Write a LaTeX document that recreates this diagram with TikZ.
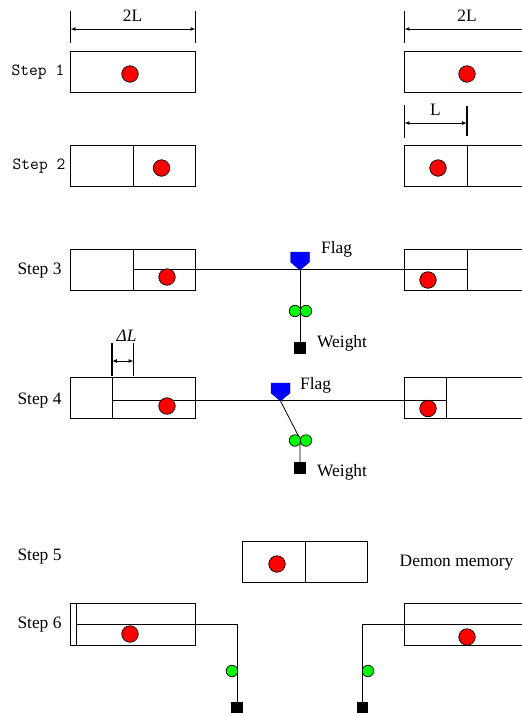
\documentclass[tikz,border=0pt]{standalone}
\usepackage{fontspec}
\setmainfont{Liberation Serif}
\usetikzlibrary{arrows}
\newcommand{\lbl}{\fontsize{17.4}{20}\selectfont}
\newcommand{\mono}{\fontsize{17}{20}\selectfont\ttfamily}
\tikzset{
  box/.style={draw, line width=0.8pt, minimum width=125pt, minimum height=41pt, inner sep=0pt},
  ball/.style={circle, draw, fill=red, line width=0.7pt, minimum size=16.5pt, inner sep=0pt},
  bead/.style={circle, draw, fill=green, line width=0.7pt, minimum size=11.5pt, inner sep=0pt},
  weight/.style={fill=black, minimum size=11.5pt, inner sep=0pt},
  wire/.style={line width=0.8pt},
  tick/.style={line width=1.1pt},
  dim/.style={line width=0.7pt, >=latex},
  txt/.style={inner sep=0pt, yshift=-1.5pt, font=\lbl},
  monotxt/.style={inner sep=0pt, yshift=-1.5pt, font=\mono},
  flagmark/.pic={\draw [fill=blue, draw=blue!70!black, line width=0.4pt] (-9.5,-18) -- (9.5,-18) -- (9.5,-8) -- (0,0) -- (-9.5,-8) -- cycle;}
}
\begin{document}
\begin{tikzpicture}[x=1pt,y=-1pt]
    \useasboundingbox (0,0) rectangle (522,716);
    \clip (0,0) rectangle (522,716);
    \node [box] (s1l) at (133,71.5) {};
    \node [box] (s1r) at (467,71.5) {};
    \node [box] (s2l) at (133,165.5) {};
    \node [box] (s2r) at (467,165.5) {};
    \node [box] (s3l) at (133,269.5) {};
    \node [box] (s3r) at (467,269.5) {};
    \node [box] (s4l) at (133,398) {};
    \node [box] (s4r) at (467,398) {};
    \node [box] (s5) at (305,561.5) {};
    \node [box, minimum height=42pt] (s6l) at (133,624) {};
    \node [box, minimum height=42pt] (s6r) at (467,624) {};
    \node [monotxt] (step1) at (38,71) {Step 1};
    \node [monotxt] (step2) at (39,165) {Step 2};
    \node [txt] (step3) at (39.5,269) {Step 3};
    \node [txt] (step4) at (39.5,399) {Step 4};
    \node [txt] (step5) at (39.5,555) {Step 5};
    \node [txt] (step6) at (39.5,623) {Step 6};
    \draw [wire] (s2l.north) to (s2l.south);
    \draw [wire] (s2r.north) to (s2r.south);
    \draw [wire] (s3l.north) to (s3l.south);
    \draw [wire] (s3r.north) to (s3r.south);
    \draw [wire] (s5.north) to (s5.south);
    \coordinate (d4l) at (112,378);
    \coordinate (e4l) at (112,418.5);
    \coordinate (d4r) at (446,378);
    \coordinate (e4r) at (446,418.5);
    \coordinate (d6l) at (76,603);
    \coordinate (e6l) at (76,645);
    \draw [wire] (d4l) to (e4l);
    \draw [wire] (d4r) to (e4r);
    \draw [wire] (d6l) to (e6l);
    \coordinate (a1) at (70.5,11);
    \coordinate (b1) at (70.5,43);
    \coordinate (a2) at (195.5,11);
    \coordinate (b2) at (195.5,43);
    \coordinate (a3) at (404.5,11);
    \coordinate (b3) at (404.5,43);
    \coordinate (m1) at (70.5,29);
    \coordinate (m2) at (195.5,29);
    \coordinate (m3) at (404.5,29);
    \coordinate (m4) at (530,29);
    \draw [tick] (a1) to (b1);
    \draw [tick] (a2) to (b2);
    \draw [dim] (a3) to (b3);
    \draw [dim,<->] (m1) to (m2);
    \draw [dim,<-] (m3) to (m4);
    \node [txt] (t1) at (132.5,14) {2L};
    \node [txt] (t2) at (467,14) {2L};
    \coordinate (a4) at (404.5,105);
    \coordinate (b4) at (404.5,138);
    \coordinate (a5) at (467,106);
    \coordinate (b5) at (467,136);
    \coordinate (m5) at (404.5,123);
    \coordinate (m6) at (467,123);
    \draw [dim] (a4) to (b4);
    \draw [tick] (a5) to (b5);
    \draw [dim,<->] (m5) to (m6);
    \node [txt] (t3) at (435.5,108) {L};
    \coordinate (a6) at (112,343);
    \coordinate (b6) at (112,376);
    \coordinate (a7) at (133.5,343);
    \coordinate (b7) at (133.5,376);
    \coordinate (m7) at (112,361);
    \coordinate (m8) at (133.5,361);
    \draw [tick] (a6) to (b6);
    \draw [tick] (a7) to (b7);
    \draw [dim,<->] (m7) to (m8);
    \node [txt] (t4) at (126.5,334) {\textit{ΔL}};
    \coordinate (c3a) at (133,269.5);
    \coordinate (c3b) at (467,269.5);
    \coordinate (f3) at (300,270);
    \node [weight] (w3) at (300,348) {};
    \draw [wire] (c3a) to (c3b);
    \draw [wire] (f3) to (w3);
    \pic at (f3) {flagmark};
    \node [bead] (g3a) at (295,311) {};
    \node [bead] (g3b) at (306,311) {};
    \node [txt, anchor=west] (flag3) at (321,248) {Flag};
    \node [txt, anchor=west] (wlabel3) at (317,342) {Weight};
    \coordinate (c4a) at (112,400);
    \coordinate (c4b) at (446,400);
    \coordinate (f4) at (280.5,401);
    \coordinate (k4) at (300,439);
    \node [weight] (w4) at (300,468) {};
    \draw [wire] (c4a) to (c4b);
    \draw [wire] (f4) to (k4) to (w4);
    \pic at (f4) {flagmark};
    \node [bead] (g4a) at (295,440.5) {};
    \node [bead] (g4b) at (306,440.5) {};
    \node [txt, anchor=west] (flag4) at (300,384) {Flag};
    \node [txt, anchor=west] (wlabel4) at (317,471) {Weight};
    \node [txt] (demon) at (456.5,561) {Demon memory};
    \coordinate (c6a) at (76,624);
    \coordinate (c6b) at (237,624);
    \node [weight] (w6l) at (237,707.5) {};
    \draw [wire] (c6a) to (c6b) to (w6l);
    \node [bead] (g6l) at (232,671) {};
    \coordinate (c6c) at (530,624);
    \coordinate (c6d) at (362.5,624);
    \node [weight] (w6r) at (362.5,707.5) {};
    \draw [wire] (c6c) to (c6d) to (w6r);
    \node [bead] (g6r) at (368,671) {};
    \node [ball] (r1) at (130,74) {};
    \node [ball] (r2) at (467,74) {};
    \node [ball] (r3) at (161.5,168) {};
    \node [ball] (r4) at (438,168) {};
    \node [ball] (r5) at (167,277) {};
    \node [ball] (r6) at (428,280) {};
    \node [ball] (r7) at (167,406) {};
    \node [ball] (r8) at (428,408.5) {};
    \node [ball] (r9) at (277,564) {};
    \node [ball] (r10) at (130,634) {};
    \node [ball] (r11) at (467,637) {};
  \end{tikzpicture}
\end{document}
